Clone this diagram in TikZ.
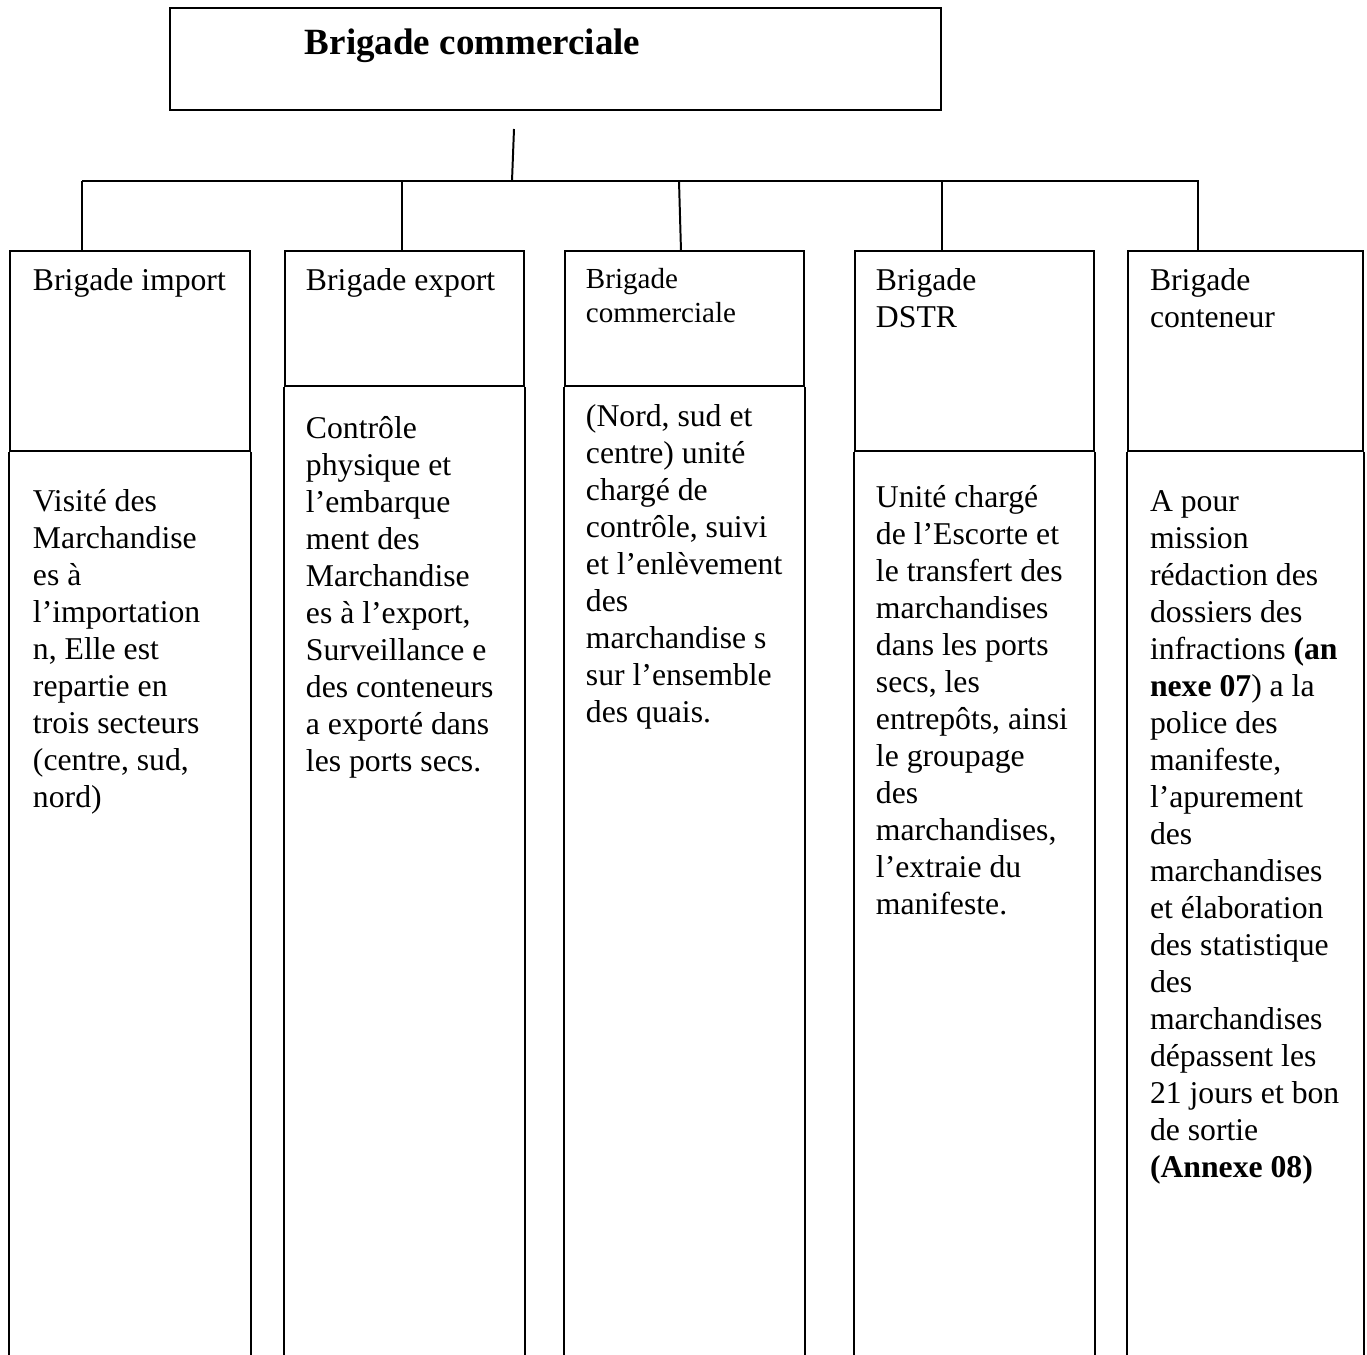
\documentclass[tikz,border=0pt]{standalone}
\usepackage{fontspec}
\setmainfont{Liberation Serif}
\begin{document}
\begin{tikzpicture}[x=0.3785pt, y=-0.3785pt, line width=0.75pt,
  box/.style 2 args={draw, rectangle, inner sep=0pt,
    minimum width=#1*0.3785pt, minimum height=#2*0.3785pt},
  txt/.style={anchor=north west, inner sep=0pt, align=left,
    font=\fontsize{12}{14}\selectfont},
  smalltxt/.style={anchor=north west, inner sep=0pt, align=left,
    font=\fontsize{11}{12.65}\selectfont},
  titletxt/.style={anchor=base west, inner sep=0pt,
    font=\fontsize{14}{16}\selectfont\bfseries}]
\useasboundingbox (0,0) rectangle (1367,1355);

% top unit
\node[box={771}{102}] (top) at (555.5,59) {};
\node[titletxt] (title) at (304,55) {Brigade commerciale};

% header cells of the five brigades
\node[box={240}{200}] (h1) at (130,351) {};
\node[box={239}{135}] (h2) at (404.5,318.5) {};
\node[box={239}{135}] (h3) at (684.5,318.5) {};
\node[box={239}{200}] (h4) at (974.5,351) {};
\node[box={235}{200}] (h5) at (1245.5,351) {};

% description columns, open at the bottom edge
\coordinate (bot) at (0,1355);
\foreach \h in {h1,h2,h3,h4,h5}{
  \draw (\h.south west) -- (\h.south west |- bot);
  \draw (\h.south east) -- (\h.south east |- bot);
}

% connectors
\coordinate (s0) at (514,129);
\coordinate (s1) at (512,181);
\coordinate (j1) at (82,181);
\coordinate (j2) at (402,181);
\coordinate (j3) at (679,181);
\coordinate (d3) at (681,251);
\coordinate (j4) at (942,181);
\coordinate (j5) at (1199,181);
\draw (s0) -- (s1);
\draw (j1) -- (j5);
\draw (j1) -- (j1 |- h1.north);
\draw (j2) -- (j2 |- h2.north);
\draw (j3) -- (d3);
\draw (j4) -- (j4 |- h4.north);
\draw ([xshift=-0.38pt]j5) -- ([xshift=-0.38pt]j5 |- h5.north);

% header texts
\node[txt] (t1h) at (32,264.1) {\strut Brigade import};
\node[txt] (t2h) at (305,264.1) {\strut Brigade export};
\node[smalltxt] (t3h) at (585,264.6) {\strut Brigade\\commerciale};
\node[txt] (t4h) at (875,264.1) {\strut Brigade\\DSTR};
\node[txt] (t5h) at (1149,264.1) {\strut Brigade\\conteneur};

% description texts
\node[txt] (t1b) at (32,485.1) {\strut Visité des\\Marchandise\\es à\\l’importation\\n, Elle est\\repartie en\\trois secteurs\\(centre, sud,\\nord)};
\node[txt] (t2b) at (305,412.1) {\strut Contrôle\\physique et\\l’embarque\\ment des\\Marchandise\\es à l’export,\\Surveillance e\\des conteneurs\\a exporté dans\\les ports secs.};
\node[txt] (t3b) at (585,400.1) {\strut (Nord, sud et\\centre) unité\\chargé de\\contrôle, suivi\\et l’enlèvement\\des\\marchandise s\\sur l’ensemble\\des quais.};
\node[txt] (t4b) at (875,481.1) {\strut Unité chargé\\de l’Escorte et\\le transfert des\\marchandises\\dans les ports\\secs, les\\entrepôts, ainsi\\le groupage\\des\\marchandises,\\l’extraie du\\manifeste.};
\node[txt] (t5b) at (1149,485.1) {\strut A pour\\mission\\rédaction des\\dossiers des\\infractions \textbf{(an}\\\textbf{nexe 07}) a la\\police des\\manifeste,\\l’apurement\\des\\marchandises\\et élaboration\\des statistique\\des\\marchandises\\dépassent les\\21 jours et bon\\de sortie\\\textbf{(Annexe 08)}};
\end{tikzpicture}
\end{document}
